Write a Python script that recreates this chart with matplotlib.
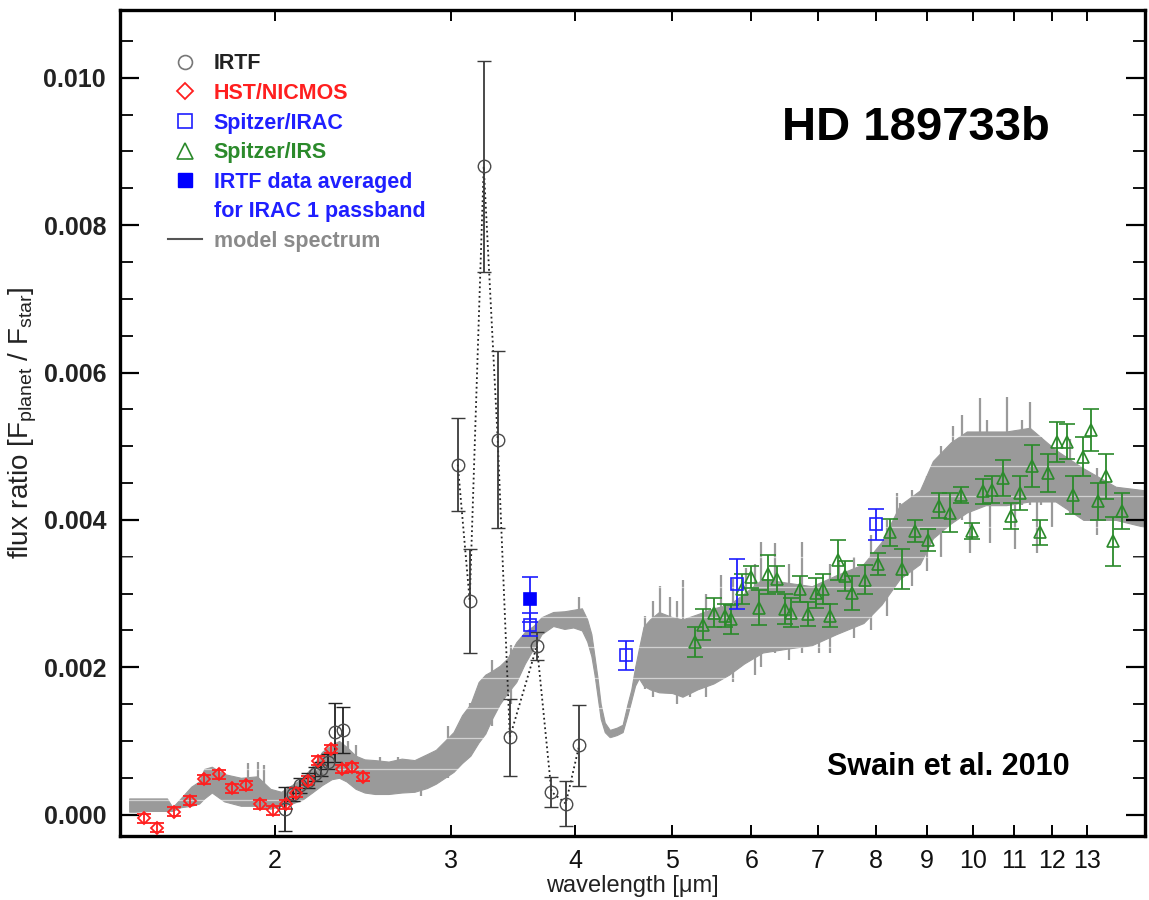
import matplotlib
matplotlib.use("Agg")
import matplotlib.pyplot as plt
from matplotlib import font_manager
from matplotlib.lines import Line2D
from matplotlib.ticker import FixedLocator, NullLocator, MultipleLocator, FormatStrFormatter

# ---------------- data ----------------
# IRTF, K band cluster
irtf_k_wl = [2.05, 2.086, 2.118, 2.157, 2.193, 2.227, 2.26, 2.296, 2.341]
irtf_k_fx = [0.00008, 0.00028, 0.0004, 0.00046, 0.00055, 0.00062, 0.00072, 0.00112, 0.00115]
irtf_k_err = [0.0003, 0.0001, 0.0001, 0.0001, 0.0001, 0.0001, 0.0001, 0.0004, 0.00031]

# IRTF, L band (joined by a dotted line)
irtf_l_wl = [3.05, 3.135, 3.238, 3.344, 3.439, 3.66, 3.785, 3.912, 4.035]
irtf_l_fx = [0.00475, 0.0029, 0.0088, 0.00509, 0.00105, 0.00229, 0.00031, 0.00015, 0.00094]
irtf_l_err = [0.00063, 0.0007, 0.00143, 0.0012, 0.00052, 0.00019, 0.0002, 0.0003, 0.00055]

# HST/NICMOS
hst_wl = [1.48, 1.526, 1.586, 1.644, 1.699, 1.759, 1.814, 1.870, 1.932, 1.992,
          2.051, 2.102, 2.159, 2.210, 2.279, 2.338, 2.392, 2.451]
hst_fx = [-0.00005, -0.00018, 0.00004, 0.00019, 0.00048, 0.00055, 0.00036, 0.0004, 0.00014, 0.00006,
          0.00014, 0.0003, 0.00046, 0.00073, 0.00089, 0.00062, 0.00064, 0.00051]
hst_err = [0.00006] * 18

# Spitzer/IRAC
irac_wl = [3.6, 4.5, 5.8, 8.0]
irac_fx = [0.00258, 0.00216, 0.00313, 0.00394]
irac_err = [0.00016, 0.0002, 0.00034, 0.00021]

# IRTF averaged over the IRAC 1 passband
avg_wl = [3.6]
avg_fx = [0.00292]
avg_err = [0.0003]

# Spitzer/IRS
irs_wl = [5.27, 5.37, 5.51, 5.65, 5.73, 5.87, 6.00, 6.11, 6.24, 6.36,
          6.48, 6.58, 6.72, 6.84, 6.97, 7.08, 7.19, 7.33, 7.44, 7.56,
          7.80, 8.04, 8.26, 8.50, 8.75, 9.02, 9.25, 9.48, 9.73, 9.97,
          10.23, 10.44, 10.71, 10.93, 11.16, 11.45, 11.67, 11.90, 12.13, 12.41,
          12.60, 12.88, 13.12, 13.35, 13.59, 13.82, 14.09]
irs_fx = [0.00234, 0.00258, 0.00274, 0.0027, 0.00265, 0.00306, 0.00322, 0.00281, 0.00326, 0.0032,
          0.00279, 0.00274, 0.00306, 0.00272, 0.00301, 0.00306, 0.0027, 0.00346, 0.00324, 0.00301,
          0.00319, 0.0034, 0.00383, 0.00333, 0.00385, 0.00373, 0.00419, 0.0041, 0.00434, 0.00385,
          0.00439, 0.00441, 0.00457, 0.00405, 0.00437, 0.00473, 0.00383, 0.00464, 0.00506, 0.00506,
          0.00434, 0.00486, 0.00522, 0.00425, 0.00459, 0.00371, 0.00412]
irs_err = [0.0002, 0.00021, 0.0002, 0.00016, 0.0002, 0.0002, 0.00015, 0.00024, 0.00027, 0.00018,
           0.0002, 0.0002, 0.00018, 0.00016, 0.0002, 0.0002, 0.00016, 0.00027, 0.0002, 0.00023,
           0.0002, 0.00015, 0.00018, 0.00027, 0.00015, 0.00015, 0.00017, 0.00027, 0.00011, 0.00011,
           0.00017, 0.00018, 0.00024, 0.00018, 0.00023, 0.00029, 0.00017, 0.00026, 0.00027, 0.00024,
           0.00026, 0.00027, 0.00028, 0.00025, 0.0003, 0.00033, 0.00025]

# model spectrum: lower / upper envelope of the high-resolution model
spec_wl = [1.43, 1.45, 1.50, 1.56, 1.58, 1.61, 1.65, 1.68, 1.70, 1.73,
           1.78, 1.85, 1.92, 1.98, 2.03, 2.08, 2.13, 2.18, 2.23, 2.28,
           2.32, 2.36, 2.41, 2.46, 2.52, 2.60, 2.68, 2.76, 2.84, 2.90,
           2.96, 3.02, 3.08, 3.14, 3.20, 3.25, 3.30, 3.36, 3.42, 3.49,
           3.56, 3.63, 3.70, 3.80, 3.90, 3.98, 4.06, 4.11, 4.15, 4.18,
           4.21, 4.24, 4.28, 4.33, 4.40, 4.46, 4.51, 4.55, 4.59, 4.63,
           4.68, 4.75, 4.85, 5.00, 5.12, 5.30, 5.50, 5.70, 5.90, 6.16,
           6.50, 6.90, 7.30, 7.77, 8.10, 8.45, 8.85, 9.12, 9.50, 9.86,
           10.3, 10.8, 11.4, 12.1, 12.9, 13.9, 14.9]
spec_lo = [0.00004, 0.00004, 0.00005, 0.00005, 0.00005, 0.00010, 0.00012, 0.00015, 0.00022, 0.00030,
           0.00018, 0.00012, 0.00012, 0.00008, 0.00012, 0.00015, 0.00020, 0.00030, 0.00040, 0.00048,
           0.00050, 0.00045, 0.00035, 0.00030, 0.00028, 0.00028, 0.00030, 0.00031, 0.00036, 0.00042,
           0.00050, 0.00058, 0.00070, 0.00080, 0.00098, 0.00110, 0.00130, 0.00150, 0.00165, 0.00180,
           0.00205, 0.00225, 0.00245, 0.00256, 0.00252, 0.00254, 0.00250, 0.00235, 0.00215, 0.00190,
           0.00160, 0.00130, 0.00112, 0.00105, 0.00108, 0.00112, 0.00135, 0.00155, 0.00175, 0.00185,
           0.00175, 0.00170, 0.00166, 0.00165, 0.00160, 0.00170, 0.00178, 0.00190, 0.00205, 0.00220,
           0.00225, 0.00230, 0.00245, 0.00260, 0.00285, 0.00320, 0.00340, 0.00375, 0.00395, 0.00410,
           0.00420, 0.00420, 0.00425, 0.00425, 0.00400, 0.00400, 0.00390]
spec_hi = [0.00022, 0.00022, 0.00022, 0.00022, 0.00010, 0.00022, 0.00038, 0.00045, 0.00062, 0.00065,
           0.00055, 0.00050, 0.00052, 0.00035, 0.00031, 0.00040, 0.00049, 0.00065, 0.00085, 0.00095,
           0.00100, 0.00092, 0.00080, 0.00075, 0.00074, 0.00072, 0.00076, 0.00074, 0.00082, 0.00088,
           0.00100, 0.00112, 0.00135, 0.00150, 0.00180, 0.00190, 0.00195, 0.00202, 0.00212, 0.00234,
           0.00248, 0.00256, 0.00268, 0.00275, 0.00276, 0.00278, 0.00280, 0.00265, 0.00245, 0.00215,
           0.00185, 0.00150, 0.00125, 0.00115, 0.00118, 0.00122, 0.00150, 0.00170, 0.00200, 0.00225,
           0.00255, 0.00265, 0.00275, 0.00268, 0.00265, 0.00272, 0.00280, 0.00285, 0.00300, 0.00320,
           0.00315, 0.00310, 0.00325, 0.00340, 0.00370, 0.00420, 0.00440, 0.00480, 0.00505, 0.00520,
           0.00520, 0.00520, 0.00525, 0.00495, 0.00470, 0.00445, 0.00440]

# strongest individual features of the model
spike_wl = [1.88, 1.925, 1.95, 2.37, 2.41, 2.55, 2.66, 2.80, 2.98, 3.135,
            3.21, 3.30, 3.45, 4.03, 4.70, 4.78, 4.86, 4.98, 5.05, 5.13,
            5.21, 5.40, 5.60, 5.75, 5.93, 6.05, 6.14, 6.33, 6.55, 6.75,
            7.02, 7.20, 7.35, 7.60, 7.90, 8.20, 8.39, 8.45, 8.70, 9.00,
            9.30, 9.56, 9.76, 9.94, 10.16, 10.32, 10.4, 10.81, 11.03, 11.2,
            11.4, 11.6, 11.7, 12.0, 12.5, 13.3]
spike_lo = [0.0003, 0.0003, 0.00025, 0.0006, 0.0005, 0.0004, 0.0004, 0.00025, 0.0005, 0.0009,
            0.0011, 0.0012, 0.0015, 0.0026, 0.0017, 0.0016, 0.0020, 0.0020, 0.0015, 0.0016,
            0.0016, 0.0016, 0.0019, 0.0018, 0.0021, 0.0019, 0.0020, 0.0022, 0.0021, 0.0022,
            0.00219, 0.0022, 0.0025, 0.0024, 0.0025, 0.0027, 0.0032, 0.0032, 0.0031, 0.0033,
            0.0035, 0.0040, 0.0040, 0.00355, 0.0042, 0.0042, 0.00368, 0.0042, 0.0036, 0.0042,
            0.0042, 0.00355, 0.0042, 0.0039, 0.0041, 0.0038]
spike_hi = [0.0007, 0.00072, 0.00068, 0.0010, 0.00095, 0.00078, 0.00078, 0.00075, 0.0012, 0.00151,
            0.00173, 0.0021, 0.0023, 0.00295, 0.0027, 0.0029, 0.0031, 0.00296, 0.0029, 0.00318,
            0.0026, 0.0030, 0.00325, 0.0032, 0.00335, 0.0034, 0.0037, 0.00368, 0.0034, 0.0037,
            0.0030, 0.0034, 0.00345, 0.0035, 0.0038, 0.0040, 0.00437, 0.00423, 0.0044, 0.0046,
            0.0050, 0.00527, 0.00542, 0.0050, 0.00565, 0.00535, 0.0050, 0.00567, 0.0050, 0.00535,
            0.0056, 0.0048, 0.00513, 0.0048, 0.0051, 0.0047]

# faint white rules crossing the model band
rule_levels = [0.0002, 0.00062, 0.00104, 0.00145, 0.00186, 0.00227, 0.00268,
               0.00309, 0.0035, 0.00391, 0.00432, 0.00473, 0.00514]

xtick_vals = [2, 3, 4, 5, 6, 7, 8, 9, 10, 11, 12, 13]

# ---------------- fonts ----------------
names = {f.name for f in font_manager.fontManager.ttflist}
base = "Liberation Sans" if "Liberation Sans" in names else "DejaVu Sans"
narrow = "Liberation Sans Narrow" if "Liberation Sans Narrow" in names else base
plt.rcParams["font.family"] = [base, "DejaVu Sans"]
plt.rcParams["mathtext.fontset"] = "custom"
plt.rcParams["mathtext.rm"] = narrow

C_IRTF = "#4a4a4a"
C_RED = "#ff1f1f"
C_BLUE = "#1f1fff"
C_GREEN = "#2b8a2b"
C_SPEC = "#9a9a9a"

fig = plt.figure(figsize=(11.49, 9.0), dpi=100)
ax = fig.add_axes([120 / 1149, 64 / 900, 1025 / 1149, 826 / 900])

# model spectrum
ax.fill_between(spec_wl, spec_lo, spec_hi, color=C_SPEC, lw=0.8, edgecolor=C_SPEC, zorder=1)
ax.vlines(spike_wl, spike_lo, spike_hi, color=C_SPEC, lw=1.6, zorder=1)
for lev in rule_levels:
    ax.axhline(lev, color="white", lw=0.9, alpha=0.55, zorder=2)

eb_kw = dict(ls="none", elinewidth=1.3, capthick=1.3, zorder=4)

# IRTF
ax.errorbar(irtf_k_wl, irtf_k_fx, yerr=irtf_k_err, fmt="o", ms=9, mfc="none",
            mec=C_IRTF, mew=1.0, ecolor="#222222", capsize=5, **eb_kw)
ax.plot(irtf_l_wl, irtf_l_fx, ls=":", color="#222222", lw=1.3, zorder=3)
ax.errorbar(irtf_l_wl, irtf_l_fx, yerr=irtf_l_err, fmt="o", ms=9, mfc="none",
            mec=C_IRTF, mew=1.0, ecolor="#3a3a3a", capsize=5, **eb_kw)

# HST/NICMOS
ax.errorbar(hst_wl, hst_fx, yerr=hst_err, fmt="D", ms=6, mfc="none", mec=C_RED,
            mew=1.3, ecolor=C_RED, capsize=5, **eb_kw)

# Spitzer/IRS
ax.errorbar(irs_wl, irs_fx, yerr=irs_err, fmt="^", ms=8, mfc="none", mec=C_GREEN,
            mew=1.2, ecolor=C_GREEN, capsize=6, **eb_kw)

# Spitzer/IRAC and IRTF average
ax.errorbar(irac_wl, irac_fx, yerr=irac_err, fmt="s", ms=8, mfc="none", mec=C_BLUE,
            mew=1.2, ecolor=C_BLUE, capsize=6, **eb_kw)
ax.errorbar(avg_wl, avg_fx, yerr=avg_err, fmt="s", ms=8, mfc="#0000ff", mec="#0000ff",
            mew=1.2, ecolor=C_BLUE, capsize=6, **eb_kw)

# axes
ax.set_xscale("log")
ax.set_xlim(1.40, 14.87)
ax.set_ylim(-0.00029, 0.01092)
ax.xaxis.set_major_locator(FixedLocator(xtick_vals))
ax.xaxis.set_minor_locator(NullLocator())
ax.set_xticklabels([str(v) for v in xtick_vals], fontfamily=narrow, fontsize=18)
ax.yaxis.set_major_locator(MultipleLocator(0.002))
ax.yaxis.set_minor_locator(MultipleLocator(0.0005))
ax.yaxis.set_major_formatter(FormatStrFormatter("%.3f"))
for lab in ax.get_yticklabels():
    lab.set_fontweight("bold")
    lab.set_fontsize(18)
    lab.set_color("#222222")

ax.tick_params(axis="both", which="both", direction="in", top=True, right=True)
ax.tick_params(axis="y", which="major", length=14, width=1.6, pad=10)
ax.tick_params(axis="y", which="minor", length=9, width=1.3)
ax.tick_params(axis="x", which="major", length=8, width=1.4, pad=9, labelcolor="#111111")
for sp in ax.spines.values():
    sp.set_linewidth(2.4)

ax.set_xlabel("wavelength [\u03bcm]", fontfamily=narrow, fontsize=17, labelpad=2, color="#222222")
ax.set_ylabel(r"flux ratio [F$_{\mathregular{planet}}$ / F$_{\mathregular{star}}$]",
              fontfamily=narrow, fontsize=20, labelpad=3, color="#222222")

ax.text(0.777, 0.857, "HD 189733b", transform=ax.transAxes, ha="center", va="center",
        fontsize=34, fontweight="bold", color="black")
ax.text(0.808, 0.083, "Swain et al. 2010", transform=ax.transAxes, ha="center", va="center",
        fontsize=22, fontweight="bold", color="black")

# legend
handles = [
    Line2D([], [], ls="none", marker="o", ms=10, mfc="none", mec="#777777", mew=1.2),
    Line2D([], [], ls="none", marker="D", ms=8, mfc="none", mec=C_RED, mew=1.3),
    Line2D([], [], ls="none", marker="s", ms=10, mfc="none", mec=C_BLUE, mew=1.2),
    Line2D([], [], ls="none", marker="^", ms=11, mfc="none", mec=C_GREEN, mew=1.2),
    Line2D([], [], ls="none", marker="s", ms=10, mfc="#0000ff", mec="#0000ff"),
    Line2D([], [], ls="none"),
    Line2D([], [], color="#555555", lw=1.5),
]
labels = ["IRTF", "HST/NICMOS", "Spitzer/IRAC", "Spitzer/IRS",
          "IRTF data averaged", "for IRAC 1 passband", "model spectrum"]
leg = ax.legend(handles, labels, loc="upper left", bbox_to_anchor=(0.038, 0.958),
                frameon=False, handlelength=1.6, handletextpad=0.55, labelspacing=0.40,
                borderaxespad=0.0, prop={"family": base, "weight": "bold", "size": 15.5},
                labelcolor=["#222222", C_RED, C_BLUE, C_GREEN, C_BLUE, C_BLUE, "#8a8a8a"])

fig.savefig("out.png", dpi=100)
